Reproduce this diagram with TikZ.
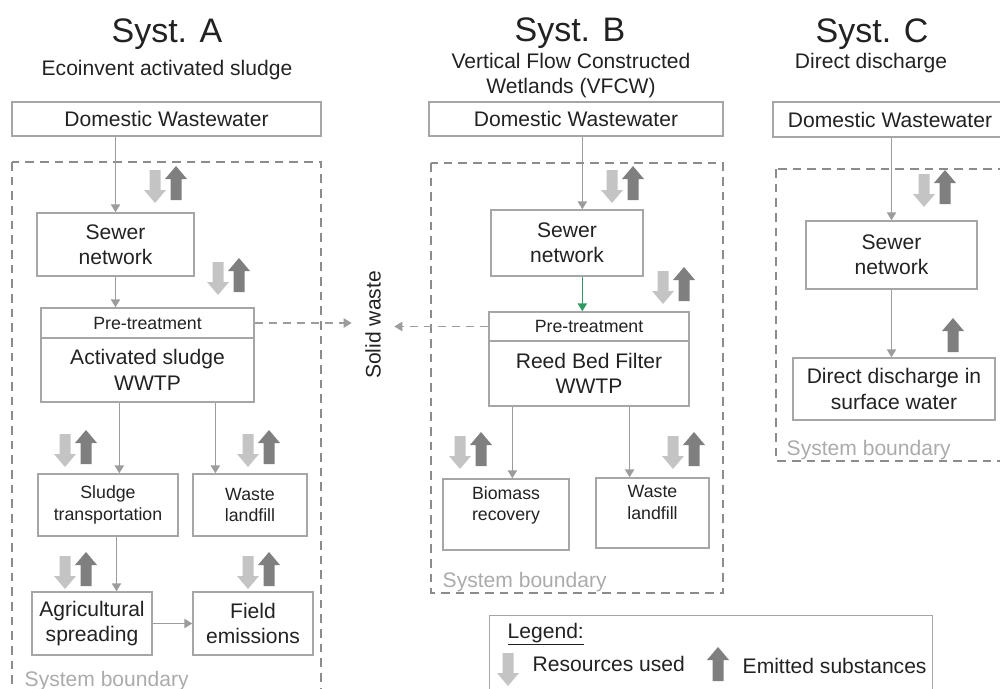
\documentclass[tikz,border=0pt]{standalone}
\usepackage{fontspec}
\setmainfont{Liberation Sans}
\usepackage{tikz}
\usetikzlibrary{arrows.meta,calc}

\definecolor{textdark}{HTML}{222222}
\definecolor{boxgray}{HTML}{A6A6A6}
\definecolor{linegray}{HTML}{9C9C9C}
\definecolor{dashgray}{HTML}{8C8C8C}
\definecolor{labelgray}{HTML}{ABABAB}
\definecolor{resfill}{HTML}{C4C4C4}
\definecolor{emitfill}{HTML}{7F7F7F}
\definecolor{greenflow}{HTML}{2E9B63}

\begin{document}
\begin{tikzpicture}[x=0.75pt, y=-0.75pt,
  every node/.style = {text=textdark, align=center,
    font=\fontsize{15.8}{19}\selectfont},
  box/.style = {draw=boxgray, line width=1.1pt, inner sep=0pt},
  boxsize/.style 2 args = {minimum width=#1*0.75pt, minimum height=#2*0.75pt},
  small/.style = {font=\fontsize{13.3}{16}\selectfont},
  title/.style = {font=\fontsize{25.5}{30}\selectfont, anchor=base},
  flow/.style = {draw=linegray, line width=1.1pt, -{Triangle[width=7pt,length=6pt]}},
  waste/.style = {flow, dash pattern=on 6pt off 4.5pt},
  boundary/.style = {draw=dashgray, line width=1.5pt, dash pattern=on 6.5pt off 4.5pt},
  sysb/.style = {text=labelgray, anchor=base west},
  resdown/.pic = {\fill[resfill] (-5.5,0) -- (5.5,0) -- (5.5,20) -- (11,20) -- (0,33)
    -- (-11,20) -- (-5.5,20) -- cycle;},
  emitup/.pic = {\fill[emitfill] (0,0) -- (11,13) -- (5.5,13) -- (5.5,34) -- (-5.5,34)
    -- (-5.5,13) -- (-11,13) -- cycle;},
  flows/.pic = {\pic at (0,4) {resdown}; \pic at (21,0) {emitup};}]
  \useasboundingbox (0,0) rectangle (1000,689);
  \clip (0,0) rectangle (1000,689);

  % titles
  \node[title] (titleA) at (167,42) {Syst. A};
  \node[anchor=base] (subA) at (167,75) {Ecoinvent activated sludge};
  \node[title] (titleB) at (570,41) {Syst. B};
  \node[anchor=base] (subB) at (571,68) {Vertical Flow Constructed};
  \node[anchor=base] (subB2) at (571,93) {Wetlands (VFCW)};
  \node[title] (titleC) at (872,42) {Syst. C};
  \node[anchor=base] (subC) at (871,68) {Direct discharge};

  % Syst. A
  \draw[boundary] (12,162) rectangle (321,700);
  \node[sysb] (sbA) at (20,686) {System boundary};
  \node[box, boxsize={309}{34}] (dwA) at (166.5,119) {Domestic Wastewater};
  \node[box, boxsize={157}{63}] (sewerA) at (115.5,244.5) {Sewer\\network};
  \node[box, small, boxsize={213}{30}] (preA) at (147.5,323) {Pre-treatment};
  \node[box, boxsize={213}{64}] (wwtpA) at (147.5,370) {Activated sludge\\WWTP};
  \node[box, small, boxsize={140}{62}] (sludgeA) at (108,505) {Sludge\\transportation};
  \node[box, small, boxsize={114}{62}] (landA) at (250,505) {Waste\\landfill};
  \node[box, boxsize={120}{63}] (agriA) at (92,623.5) {Agricultural\\spreading};
  \node[box, boxsize={120}{63}] (fieldA) at (253,623.5) {Field\\emissions};
  \coordinate (tA) at ($(sludgeA.north west)!0.58!(sludgeA.north east)$);
  \coordinate (lA) at ($(landA.north west)!0.2!(landA.north east)$);
  \coordinate (sA) at ($(sludgeA.south west)!0.56!(sludgeA.south east)$);
  \draw[flow] (dwA.south -| sewerA.north) -- (sewerA.north);
  \draw[flow] (sewerA.south) -- (sewerA.south |- preA.north);
  \draw[flow] (wwtpA.south -| tA) -- (tA);
  \draw[flow] (wwtpA.south -| lA) -- (lA);
  \draw[flow] (sA) -- (sA |- agriA.north);
  \draw[flow] (agriA.east) -- (fieldA.west);
  \pic at (155,166) {flows};
  \pic at (218,258) {flows};
  \pic at (65,430) {flows};
  \pic at (248,430) {flows};
  \pic at (65,552) {flows};
  \pic at (248,552) {flows};

  % Syst. B
  \draw[boundary] (431,163) rectangle (723,593);
  \node[sysb] (sbB) at (438,587) {System boundary};
  \node[box, boxsize={294}{34}] (dwB) at (576,119) {Domestic Wastewater};
  \node[box, boxsize={152}{66}] (sewerB) at (567,243) {Sewer\\network};
  \node[box, small, boxsize={200}{29}] (preB) at (589,326.5) {Pre-treatment};
  \node[box, boxsize={200}{65}] (wwtpB) at (589,373.5) {Reed Bed Filter\\WWTP};
  \node[box, small, boxsize={126}{71}] (bioB) at (506,514.5) {Biomass\\recovery\\~};
  \node[box, small, boxsize={113}{70}] (landB) at (652.5,513) {Waste\\landfill\\~};
  \coordinate (nB) at ($(sewerB.north west)!0.6!(sewerB.north east)$);
  \coordinate (bB) at ($(bioB.north west)!0.55!(bioB.north east)$);
  \coordinate (lB) at ($(landB.north west)!0.3!(landB.north east)$);
  \draw[flow] (dwB.south -| nB) -- (nB);
  \draw[flow, draw=greenflow] (sewerB.south -| nB) -- (preB.north -| nB);
  \draw[flow] (wwtpB.south -| bB) -- (bB);
  \draw[flow] (wwtpB.south -| lB) -- (lB);
  \pic at (612,166) {flows};
  \pic at (663,267) {flows};
  \pic at (460,432) {flows};
  \pic at (673,432) {flows};

  % solid waste between A and B
  \node[rotate=90, inner sep=10pt] (solid) at (373,325) {Solid waste};
  \draw[waste] (preA.east) -- (preA.east -| solid.north);
  \draw[waste] (preB.west) -- (preB.west -| solid.south);

  % Syst. C
  \draw[boundary] (776,169) rectangle (1010,461);
  \node[sysb] (sbC) at (782,455) {System boundary};
  \node[box, boxsize={234}{35}] (dwC) at (890,119.5) {Domestic Wastewater};
  \node[box, boxsize={171}{68}] (sewerC) at (891.5,255) {Sewer\\network};
  \node[box, boxsize={202}{62}] (directC) at (894,389) {Direct discharge in\\surface water};
  \draw[flow] (dwC.south -| sewerC.north) -- (sewerC.north);
  \draw[flow] (sewerC.south) -- (sewerC.south |- directC.north);
  \pic at (924,170) {flows};
  \pic at (953,318) {emitup};

  % legend
  \node[box, boxsize={443}{90}, anchor=north west] (legend) at (489,615) {};
  \node[anchor=base west] (legtitle) at (503,638) {\underline{Legend:}};
  \pic at (508,653) {resdown};
  \node[anchor=base west] (legres) at (528,671) {Resources used};
  \pic at (718,647) {emitup};
  \node[anchor=base west] (legemit) at (738,673) {Emitted substances};
\end{tikzpicture}
\end{document}
